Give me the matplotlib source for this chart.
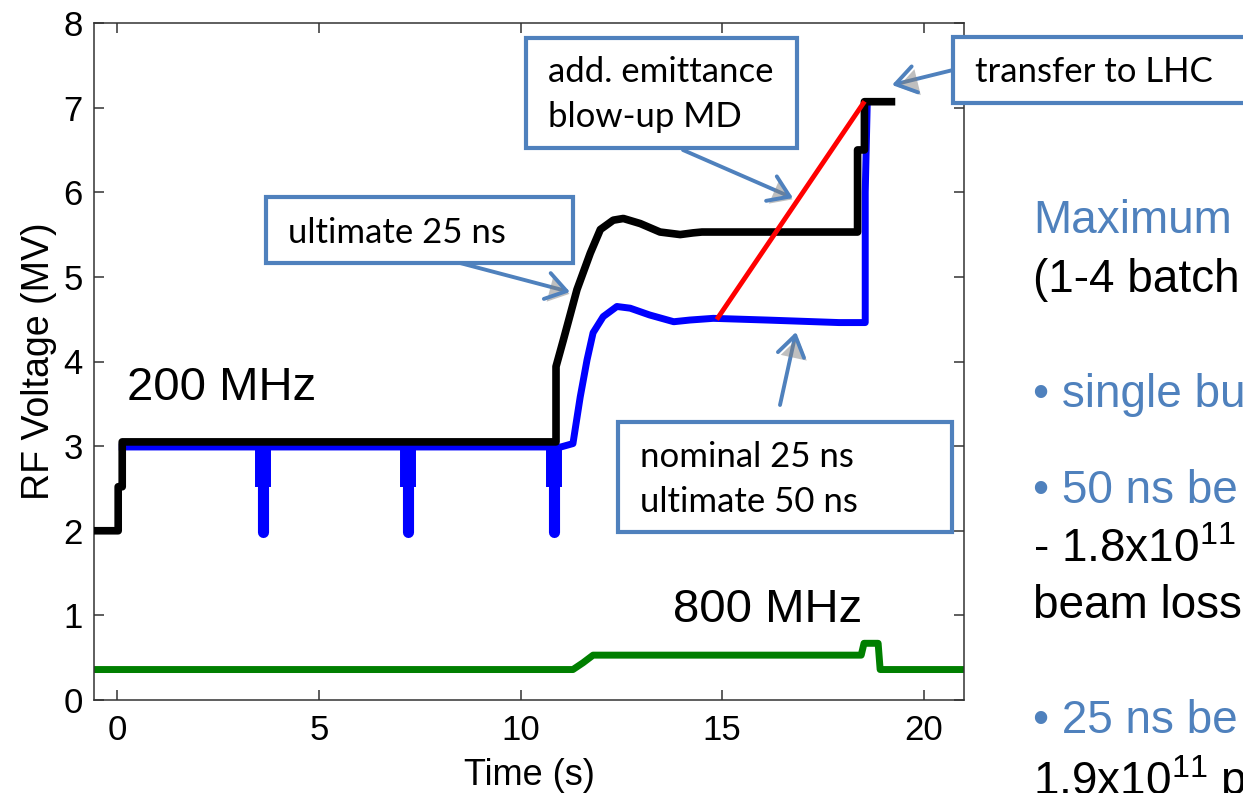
import numpy as np
import matplotlib.pyplot as plt
import matplotlib.patheffects as pe
from matplotlib.patches import Rectangle

plt.rcParams['font.family'] = ['Liberation Sans', 'DejaVu Sans']
plt.rcParams['mathtext.fontset'] = 'custom'
plt.rcParams['mathtext.rm'] = 'Liberation Sans'
plt.rcParams['mathtext.it'] = 'Liberation Sans:italic'

# 200 MHz voltage programs (time in s, voltage in MV)
black_t = [-0.6, 0.02, 0.02, 0.12, 0.12, 10.88, 10.88, 11.06, 11.4, 11.73, 11.98,
           12.3, 12.55, 12.97, 13.46, 13.96, 14.28, 14.5, 18.36, 18.36, 18.53, 18.53, 19.2]
black_v = [2.0, 2.0, 2.52, 2.52, 3.05, 3.05, 3.94, 4.25, 4.85, 5.28, 5.56,
           5.67, 5.69, 5.63, 5.53, 5.5, 5.52, 5.53, 5.53, 6.5, 6.5, 7.07, 7.07]

blue_t = [0.12, 11.0, 11.3, 11.48, 11.65, 11.8, 12.05, 12.39, 12.72, 13.2, 13.8,
          14.2, 14.78, 16.1, 17.9, 18.55, 18.55, 18.6]
blue_v = [2.99, 2.99, 3.03, 3.58, 4.02, 4.34, 4.53, 4.65, 4.63, 4.55, 4.47,
          4.49, 4.51, 4.49, 4.46, 4.46, 6.0, 7.05]

# injection dips on the blue program
dip_t = [3.62, 7.21, 10.82]
dip_mid = 2.52
dip_low = 1.98

# blow-up MD ramp
red_t = [14.9, 18.5]
red_v = [4.52, 7.05]

# 800 MHz program
green_t = [-0.6, 11.3, 11.55, 11.8, 18.45, 18.52, 18.87, 18.92, 21.2]
green_v = [0.36, 0.36, 0.44, 0.53, 0.53, 0.67, 0.67, 0.36, 0.36]

W, H = 1243, 793
fig = plt.figure(figsize=(W / 100, H / 100), dpi=100)
ax = fig.add_axes([94 / W, (H - 700) / H, (964 - 94) / W, (700 - 23) / H])

ax.plot(green_t, green_v, color='#007f00', lw=5, zorder=2)
ax.plot(blue_t, blue_v, color='#0000ff', lw=5, zorder=3)
ax.vlines(dip_t, dip_mid, 2.99, color='#0000ff', lw=11.5, zorder=3)
ax.vlines(dip_t, dip_low, dip_mid, color='#0000ff', lw=8, zorder=3, capstyle='round')
ax.plot(black_t, black_v, color='black', lw=5.5, zorder=4)
ax.plot(red_t, red_v, color='#ff0000', lw=3.5, zorder=5)

ax.set_xlim(-0.58, 21.0)
ax.set_ylim(0, 8)
ax.set_xticks([0, 5, 10, 15, 20])
ax.set_yticks(range(9))
ax.tick_params(direction='in', top=True, right=True, length=7, width=1.1,
               labelsize=25, color='#333333')
ax.tick_params(axis='x', pad=10)
ax.tick_params(axis='y', pad=8)
for s in ax.spines.values():
    s.set_color('#333333')
    s.set_linewidth(1.1)
ax.set_xlabel('Time (s)', fontsize=26, labelpad=8)
ax.set_ylabel('RF Voltage (MV)', fontsize=27, labelpad=5)

ax.text(0.24, 3.55, '200 MHz', fontsize=34, va='baseline')
ax.text(13.77, 0.92, '800 MHz', fontsize=34, va='baseline')

# callouts and side text, laid out in pixel coordinates
ov = fig.add_axes([0, 0, 1, 1], zorder=10)
ov.set_xlim(0, W)
ov.set_ylim(H, 0)
ov.axis('off')
ov.patch.set_alpha(0)

box_col = '#4f81bd'
boxes = [
    (266, 197, 307, 66, ['ultimate 25 ns'], 288, [243]),
    (526, 38, 271, 110, ['add. emittance', 'blow-up MD'], 548, [82, 127]),
    (953, 37, 320, 66, ['transfer to LHC'], 975, [82]),
    (618, 422, 334, 110, ['nominal 25 ns', 'ultimate 50 ns'], 640, [467, 512]),
]
for x0, y0, w, h, lines, tx, tys in boxes:
    ov.add_patch(Rectangle((x0, y0), w, h, fc='white', ec=box_col, lw=3, zorder=1,
                           clip_on=False))
    for s, ty in zip(lines, tys):
        ov.text(tx, ty, s, fontsize=25, family=['Lato', 'DejaVu Sans'],
                va='baseline', zorder=2)

arrows = [((460, 263), (570, 292)), ((683, 150), (793, 198)),
          ((953, 70), (892, 85)), ((780, 405), (796, 332))]
shadow = [pe.withSimplePatchShadow(offset=(2, -2), shadow_rgbFace='#808080', alpha=0.5)]
for (x0, y0), (x1, y1) in arrows:
    ov.annotate('', xy=(x1, y1), xytext=(x0, y0), zorder=3,
                arrowprops=dict(arrowstyle='->, head_length=0.45, head_width=0.3',
                                color=box_col, lw=2.8, mutation_scale=32,
                                shrinkA=0, shrinkB=0, path_effects=shadow))

side_blue = '#4f81bd'
side = [
    ('Maximum', side_blue, 233),
    ('(1-4 batch', 'black', 292),
    ('\u2022 single bu', side_blue, 407),
    ('\u2022 50 ns be', side_blue, 503),
    ('- 1.8x10$^{11}$', 'black', 562),
    ('beam loss', 'black', 618),
    ('\u2022 25 ns be', side_blue, 733),
    ('1.9x10$^{11}$ p', 'black', 795),
]
for s, c, y in side:
    ov.text(1033, y, s, fontsize=33, color=c, va='baseline')

fig.savefig('out.png', dpi=100)
